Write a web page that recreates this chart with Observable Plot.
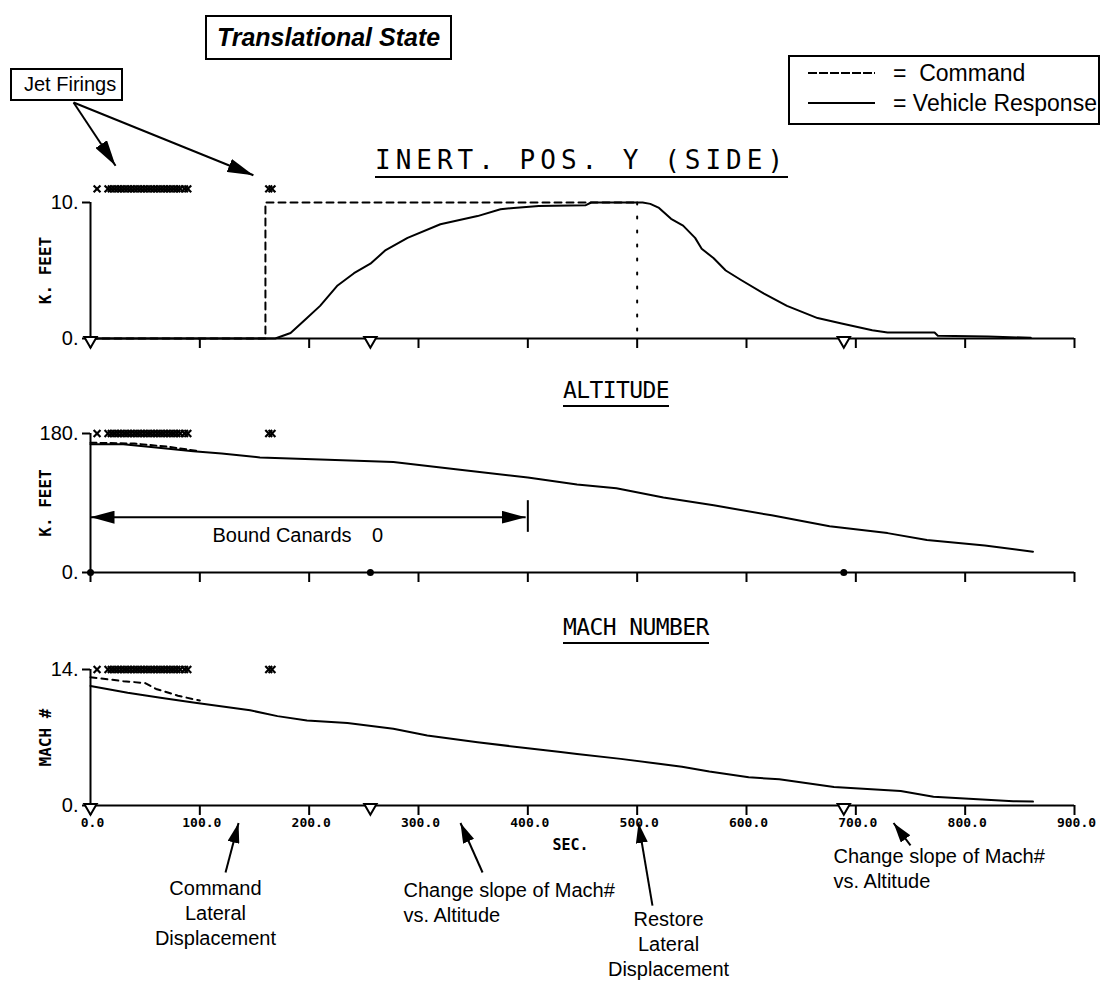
<!DOCTYPE html>
<html><head><meta charset="utf-8">
<script src="https://cdn.jsdelivr.net/npm/d3@7"></script>
<script src="https://cdn.jsdelivr.net/npm/@observablehq/plot@0.6"></script>
<style>
html,body{margin:0;padding:0;background:#fff;overflow:hidden;}
#wrap{position:relative;width:1107px;height:989px;font-family:"Liberation Sans",Arial,sans-serif;color:#000;}
.svgp{position:absolute;left:0;}
.box{position:absolute;border:2px solid #000;background:#fff;box-sizing:border-box;white-space:pre;}
.ptitle{position:absolute;font-family:"DejaVu Sans Mono",monospace;font-size:24px;line-height:1;border-bottom:2px solid #000;padding-bottom:3px;white-space:pre;}
.lt{position:absolute;font-size:20px;line-height:24px;white-space:pre;}
</style></head>
<body><div id="wrap"></div>
<script>
// ---------- data ----------
const xTicks = [0,100,200,300,400,500,600,700,800,900];
const xTickLabels = ["0.0","100.0","200.0","300.0","400.0","500.0","600.0","700.0","800.0","900.0"];
const jetTimes = [6,16,19,22,25,28,31,34,37,40,43,46,49,52,55,58,61,64,67,70,73,76,79,82,86,89,163,166];
const eventTimes = [0,256,689];

// Inertial position Y (k. feet)
const posCmdT = [0,160,160,500];
const posCmdV = [0,0,10,10];
const posRestoreT = [500,500];
const posRestoreV = [10,0];
const posRespT = [0,169,183,198,210,226,241,256,270,290,320,354,375,387,410,453,458,505,512,520,531,542,553,559,570,581,595,616,637,665,687,715,729,772,775,821,860];
const posRespV = [0,0,0.4,1.5,2.4,3.9,4.8,5.5,6.5,7.4,8.4,9.0,9.5,9.6,9.75,9.8,10.0,10.0,9.9,9.6,8.8,8.3,7.4,6.6,5.9,5.0,4.3,3.3,2.4,1.5,1.1,0.6,0.44,0.44,0.2,0.15,0.05];

// Altitude (k. feet)
const altCmdT = [0,40,70,100];
const altCmdV = [168,167,163,157];
const altRespT = [0,30,60,94,120,155,217,277,338,400,445,481,524,570,623,676,729,765,818,862];
const altRespV = [166,166,162,157,154,149,146,143,133,123,114,109,97,87,74,60,51,42,35,27];

// Mach number
const machCmdT = [0,30,50,60,80,100];
const machCmdV = [13.2,12.8,12.6,12.0,11.3,10.8];
const machRespT = [0,34,64,94,146,171,198,235,277,308,354,400,430,445,485,541,566,602,630,680,741,771,844,862];
const machRespV = [12.3,11.6,11.1,10.6,9.8,9.2,8.75,8.5,7.9,7.2,6.5,5.9,5.5,5.3,4.8,4.0,3.5,2.9,2.7,1.9,1.5,0.9,0.45,0.4];

// annotations
const jetArrowFrom = {t: -15.5, v: 17.35};
const jetArrowTo = [{t: 22.9, v: 12.7}, {t: 149, v: 12.0}];
const boundSpan = [{t1: 0, t2: 398, v: 71.6}];
const boundBar = {t: 400, v1: 52, v2: 93};
const belowArrows = [
  {t1: 123.5, v1: -6.9, t2: 135.4, v2: -1.8},
  {t1: 358.6, v1: -6.9, t2: 338.4, v2: -1.8},
  {t1: 514, v1: -10.3, t2: 501.2, v2: -1.8},
  {t1: 750, v1: -4.1, t2: 734.5, v2: -1.8}
];
const centeredNotes = [
  {t: 114.3, v: -11.0, s: "Command\nLateral\nDisplacement"},
  {t: 528.7, v: -14.2, s: "Restore\nLateral\nDisplacement"}
];
const leftNotes = [
  {t: 286.3, v: -9.93, s: "Change slope of Mach#\nvs. Altitude"},
  {t: 679.6, v: -6.43, s: "Change slope of Mach#\nvs. Altitude"}
];

// ---------- helpers ----------
const pts = (T, V) => T.map((t, i) => ({t, v: V[i]}));
const W = 1107;
const MONO = "DejaVu Sans Mono";

function panel(o) {
  const marks = [
    Plot.ruleY([0], {x1: 0, x2: 900, strokeWidth: 2}),
    Plot.ruleX([0], {y1: 0, y2: o.yMax, strokeWidth: 2}),
    Plot.axisX({ticks: xTicks, tickSize: 10, strokeWidth: 2, label: null, tickFormat: () => ""}),
    ...(o.labels ? [Plot.axisX({ticks: xTicks, tickSize: 0, tickPadding: 12, dx: 2, label: null,
        tickFormat: d => xTickLabels[xTicks.indexOf(d)], fontFamily: MONO, fontWeight: "bold", fontSize: 13})] : []),
    Plot.axisY({ticks: [0, o.yMax], tickSize: 8, tickPadding: 4, strokeWidth: 2, label: null,
      tickFormat: d => d + ".", fontFamily: "Liberation Sans", fontSize: 20}),
    Plot.text([o.yLabel], {text: d => d, frameAnchor: "left", textAnchor: "middle", dx: -45, rotate: -90,
      fontFamily: MONO, fontWeight: "bold", fontSize: 16}),
    ...o.lines,
    Plot.dot(jetTimes, {x: d => d, y: o.jetLevel, symbol: "times", r: 3.2, stroke: "black", strokeWidth: 2.2}),
    o.event,
    ...(o.extra || [])
  ];
  return Plot.plot({
    width: W, height: o.height,
    marginLeft: 90, marginRight: 33, marginTop: o.mt, marginBottom: o.mb,
    x: {domain: [0, 900], label: null},
    y: {domain: [0, o.yMax], label: null},
    style: {background: "transparent", overflow: "visible", fontFamily: "Liberation Sans"},
    marks
  });
}

function heads(svg, id, len, wid) {
  const s = d3.select(svg);
  s.append("defs").append("marker")
    .attr("id", id).attr("viewBox", `0 0 ${len} ${wid}`)
    .attr("refX", len).attr("refY", wid / 2)
    .attr("markerWidth", len).attr("markerHeight", wid)
    .attr("markerUnits", "userSpaceOnUse").attr("orient", "auto-start-reverse")
    .append("path").attr("d", `M0,0L${len},${wid / 2}L0,${wid}Z`).attr("fill", "black");
  s.selectAll('g[aria-description="arrow"] path').attr("marker-end", `url(#${id})`);
  s.selectAll('g[aria-description="darrow"] path').attr("marker-end", `url(#${id})`).attr("marker-start", `url(#${id})`);
}

const tri = Plot.dot(eventTimes, {x: d => d, y: 0, symbol: "triangle", rotate: 180, r: 4.6, dy: 2,
  fill: "white", stroke: "black", strokeWidth: 2});

const p1 = panel({
  height: 360, mt: 202, mb: 22, yMax: 10, yLabel: "K. FEET", jetLevel: 11.0,
  lines: [
    Plot.line(pts(posCmdT, posCmdV), {x: "t", y: "v", strokeWidth: 2, strokeDasharray: "7,5"}),
    Plot.line(pts(posRestoreT, posRestoreV), {x: "t", y: "v", strokeWidth: 2, strokeDasharray: "2,12"}),
    Plot.line(pts(posRespT, posRespV), {x: "t", y: "v", strokeWidth: 2})
  ],
  event: tri,
  extra: [
    Plot.link(jetArrowTo, {x1: jetArrowFrom.t, y1: jetArrowFrom.v, x2: "t", y2: "v", strokeWidth: 2, ariaDescription: "arrow"})
  ]
});

const p2 = panel({
  height: 240, mt: 73, mb: 28, yMax: 180, yLabel: "K. FEET", jetLevel: 180,
  lines: [
    Plot.line(pts(altCmdT, altCmdV), {x: "t", y: "v", strokeWidth: 2, strokeDasharray: "6,4"}),
    Plot.line(pts(altRespT, altRespV), {x: "t", y: "v", strokeWidth: 2})
  ],
  event: Plot.dot(eventTimes, {x: d => d, y: 0, r: 3.5, fill: "black"}),
  extra: [
    Plot.link(boundSpan, {x1: "t1", x2: "t2", y1: "v", y2: "v", strokeWidth: 2, ariaDescription: "darrow"}),
    Plot.ruleX([boundBar.t], {y1: boundBar.v1, y2: boundBar.v2, strokeWidth: 2}),
    Plot.text(["Bound Canards"], {text: d => d, x: 111.6, y: 47.9, textAnchor: "start", fontSize: 20}),
    Plot.text(["0"], {text: d => d, x: 262.5, y: 47.9, fontSize: 20})
  ]
});

const p3 = panel({
  height: 389, mt: 69, mb: 184, yMax: 14, yLabel: "MACH #", jetLevel: 14, labels: true,
  lines: [
    Plot.line(pts(machCmdT, machCmdV), {x: "t", y: "v", strokeWidth: 2, strokeDasharray: "6,5"}),
    Plot.line(pts(machRespT, machRespV), {x: "t", y: "v", strokeWidth: 2})
  ],
  event: tri,
  extra: [
    Plot.text(["SEC."], {text: d => d, x: 439, y: -4.1, fontFamily: MONO, fontWeight: "bold", fontSize: 15}),
    Plot.link(belowArrows, {x1: "t1", y1: "v1", x2: "t2", y2: "v2", strokeWidth: 2, ariaDescription: "arrow"}),
    Plot.text(centeredNotes, {x: "t", y: "v", text: "s", textAnchor: "middle", lineAnchor: "middle",
      lineHeight: 1.25, fontSize: 20}),
    Plot.text(leftNotes, {x: "t", y: "v", text: "s", textAnchor: "start", lineAnchor: "middle",
      lineHeight: 1.25, fontSize: 20})
  ]
});

heads(p1, "ah1", 26, 14);
heads(p2, "ah2", 24, 13);
heads(p3, "ah3", 20, 12);

const wrap = document.getElementById("wrap");
[[p1, 0], [p2, 360], [p3, 600]].forEach(([s, top]) => {
  s.classList.add("svgp");
  s.style.top = top + "px";
  wrap.appendChild(s);
});

function el(cls, style, text) {
  const d = document.createElement("div");
  d.className = cls;
  Object.assign(d.style, style);
  if (text != null) d.textContent = text;
  wrap.appendChild(d);
  return d;
}
// header boxes
el("box", {left: "205px", top: "15px", width: "247px", height: "45px", textAlign: "center",
  fontWeight: "bold", fontStyle: "italic", fontSize: "25px", lineHeight: "41px"}, "Translational State");
el("box", {left: "10px", top: "68px", width: "113px", height: "33px", fontSize: "20px",
  lineHeight: "29px", paddingLeft: "12px"}, "Jet Firings");
el("box", {left: "788px", top: "55px", width: "312px", height: "70px"});
el("lt", {left: "808px", top: "72px", width: "67px", height: "2px",
  background: "repeating-linear-gradient(90deg,#000 0 9px,transparent 9px 11px)"});
el("lt", {left: "808px", top: "102px", width: "67px", height: "2px", background: "#000"});
el("lt", {left: "893px", top: "60px", fontSize: "23px", lineHeight: "26px"}, "=  Command");
el("lt", {left: "893px", top: "90px", fontSize: "23px", lineHeight: "26px"}, "= Vehicle Response");
// panel titles
el("ptitle", {left: "375px", top: "147px", fontSize: "26px", letterSpacing: "5px"}, "INERT. POS. Y (SIDE)");
el("ptitle", {left: "563px", top: "379px", fontSize: "23px", letterSpacing: "-0.6px"}, "ALTITUDE");
el("ptitle", {left: "563px", top: "616px", fontSize: "23px", letterSpacing: "-0.6px"}, "MACH NUMBER");
</script>
</body></html>
